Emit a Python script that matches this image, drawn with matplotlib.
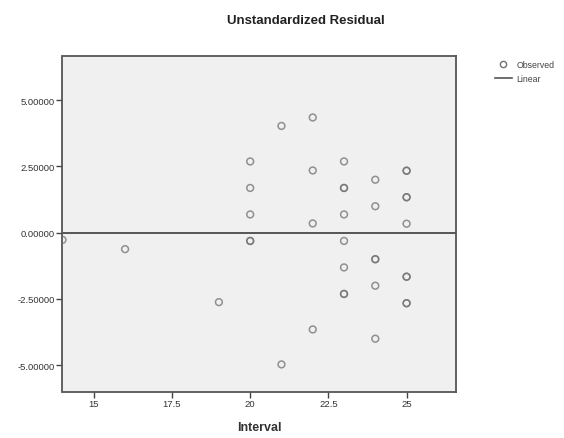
import matplotlib
matplotlib.use("Agg")
import matplotlib.pyplot as plt
from matplotlib.lines import Line2D
from matplotlib.ticker import FormatStrFormatter

# Residuals of the regression, grouped by Interval (repeated values = overlapping cases)
interval = [14, 16, 19,
            20, 20, 20, 20, 20,
            21, 21,
            22, 22, 22, 22,
            23, 23, 23, 23, 23, 23, 23, 23,
            24, 24, 24, 24, 24, 24,
            25, 25, 25, 25, 25, 25, 25, 25, 25]
residual = [-0.27, -0.62, -2.62,
            2.69, 1.69, 0.69, -0.31, -0.31,
            4.03, -4.97,
            4.35, 2.35, 0.35, -3.65,
            2.69, 1.69, 1.69, 0.69, -0.31, -1.31, -2.31, -2.31,
            2.00, 1.00, -1.00, -1.00, -2.00, -4.00,
            2.34, 2.34, 1.34, 1.34, 0.34, -1.66, -1.66, -2.66, -2.66]

# Linear fit of residual on interval (flat)
fit_intercept = 0.0
fit_slope = 0.0

x_ticks = [15, 17.5, 20, 22.5, 25]
y_ticks = [-5.0, -2.5, 0.0, 2.5, 5.0]

plt.rcParams["font.family"] = ["Liberation Sans", "DejaVu Sans"]
ink = "#444444"

fig = plt.figure(figsize=(5.64, 4.39), dpi=100)
ax = fig.add_axes([62.5 / 564, 1 - 392.7 / 439, (456 - 62.5) / 564, (392.7 - 57) / 439])
ax.set_facecolor("#F0F0F0")

xlim = (14.0, 26.58)
ax.set_xlim(*xlim)
ax.set_ylim(-6.0, 6.67)

ax.plot(xlim, [fit_intercept + fit_slope * x for x in xlim], color="#555555", lw=1.4, zorder=2)
ax.scatter(interval, residual, s=24, facecolors="none", edgecolors="#707070",
           linewidths=1.1, alpha=0.75, zorder=3)

ax.set_xticks(x_ticks)
ax.set_xticklabels(["15", "17.5", "20", "22.5", "25"])
ax.set_yticks(y_ticks)
ax.yaxis.set_major_formatter(FormatStrFormatter("%.5f"))
ax.tick_params(direction="out", length=4, width=1, colors=ink, labelsize=6.8,
               labelcolor="#333333", pad=1.5)
for sp in ax.spines.values():
    sp.set_color("#555555")
    sp.set_linewidth(1.3)

ax.set_xlabel("Interval", fontsize=9, fontweight="bold", color="#333333", labelpad=9)
fig.text(306 / 564, 1 - 21 / 439, "Unstandardized Residual", ha="center", va="center",
         fontsize=9.5, fontweight="bold", color="#222222")

handles = [Line2D([], [], marker="o", ls="none", mfc="none", mec="#707070", ms=4.5, mew=1),
           Line2D([], [], color="#555555", lw=1.2)]
fig.legend(handles, ["Observed", "Linear"], loc="upper left",
           bbox_to_anchor=(491 / 564, 1 - 58 / 439), frameon=False, fontsize=6.3,
           handlelength=2.0, handletextpad=0.5, labelspacing=0.55, borderaxespad=0,
           labelcolor="#444444")

fig.savefig("out.png", dpi=100)
